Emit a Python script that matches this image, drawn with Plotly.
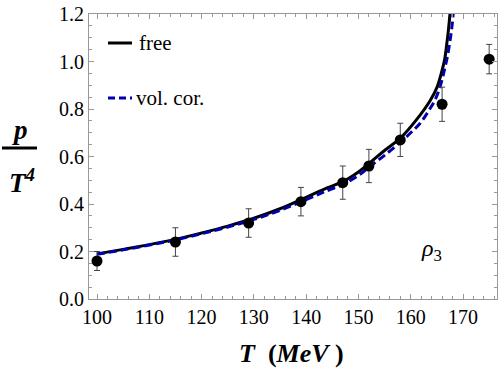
import plotly.graph_objects as go

# Data points with error bars
pt_T = [100, 115, 129, 139, 147, 152, 158, 166, 175]
pt_p = [0.16, 0.24, 0.32, 0.41, 0.49, 0.56, 0.67, 0.82, 1.01]
pt_err = [0.04, 0.06, 0.06, 0.06, 0.07, 0.07, 0.07, 0.072, 0.062]

# "free" curve
free_T = [100, 105, 110, 115, 120, 125, 130, 135, 140, 144, 147, 150, 152, 154.7,
          158, 161, 163.7, 165, 165.9, 166.5, 166.9, 167.2, 167.5, 167.7]
free_p = [0.19, 0.209, 0.229, 0.251, 0.278, 0.307, 0.34, 0.38, 0.428, 0.468, 0.494,
          0.535, 0.57, 0.62, 0.677, 0.752, 0.835, 0.89, 0.955, 1.01, 1.075, 1.13, 1.2, 1.26]

# "vol. cor." curve
vol_T = [100, 105, 110, 115, 120, 125, 130, 135, 140, 144, 147, 150, 152, 155, 158,
         160, 161.8, 163.5, 164.7, 165.7, 166.5, 167, 167.5, 167.9, 168.2]
vol_p = [0.188, 0.207, 0.227, 0.249, 0.275, 0.303, 0.335, 0.373, 0.418, 0.456, 0.482,
         0.52, 0.555, 0.605, 0.66, 0.70, 0.74, 0.795, 0.84, 0.9, 0.97, 1.02, 1.085,
         1.15, 1.22]

x_ticks = [100, 110, 120, 130, 140, 150, 160, 170]
y_ticks = [0.0, 0.2, 0.4, 0.6, 0.8, 1.0, 1.2]

W, H = 498, 370
L, R, T, B = 89, 1, 14, 71
XR = [98.47, 176.5]
YR = [0.0, 1.2]
pw, ph = W - L - R, H - T - B


def px(xpix):
    return (xpix - L) / pw


def py(ypix):
    return (H - B - ypix) / ph


SERIF = "Liberation Serif"
BLUE = "rgb(0,0,175)"

fig = go.Figure()
fig.add_trace(go.Scatter(x=free_T, y=free_p, mode="lines", line=dict(color="black", width=3, shape="spline"),
                         showlegend=False, hoverinfo="skip"))
fig.add_trace(go.Scatter(x=vol_T, y=vol_p, mode="lines",
                         line=dict(color=BLUE, width=3, dash="8px,4px", shape="spline"),
                         showlegend=False, hoverinfo="skip"))
fig.add_trace(go.Scatter(x=pt_T, y=pt_p, mode="markers",
                         marker=dict(color="black", size=11),
                         error_y=dict(type="data", array=pt_err, color="#444", thickness=1, width=3),
                         showlegend=False, cliponaxis=False))

axis_common = dict(showgrid=False, zeroline=False, showline=True, linecolor="#999", linewidth=1,
                   mirror="ticks", ticks="inside", tickcolor="#999", ticklen=5, tickwidth=1,
                   tickfont=dict(family=SERIF, size=20, color="black"))
fig.update_xaxes(range=XR, tickvals=x_ticks, ticktext=[str(v) for v in x_ticks],
                 minor=dict(dtick=2, ticks="inside", ticklen=3, tickcolor="#999", tick0=100),
                 **axis_common)
fig.update_yaxes(range=YR, tickvals=y_ticks, ticktext=[f"{v:.1f}" for v in y_ticks],
                 minor=dict(dtick=0.05, ticks="inside", ticklen=3, tickcolor="#999", tick0=0),
                 **axis_common)

shapes = [
    dict(type="line", xref="paper", yref="paper", x0=px(108), x1=px(132), y0=py(43), y1=py(43),
         line=dict(color="black", width=3)),
    dict(type="line", xref="paper", yref="paper", x0=px(108), x1=px(132), y0=py(98), y1=py(98),
         line=dict(color=BLUE, width=3, dash="7px,4px")),
    dict(type="line", xref="paper", yref="paper", x0=px(2), x1=px(37), y0=py(148), y1=py(148),
         line=dict(color="black", width=3)),
]

annotations = [
    dict(x=px(137), y=py(43), xref="paper", yref="paper", text="free", showarrow=False,
         xanchor="left", yanchor="middle", font=dict(family=SERIF, size=21, color="black")),
    dict(x=px(134), y=py(98), xref="paper", yref="paper", text="vol. cor.", showarrow=False,
         xanchor="left", yanchor="middle", font=dict(family=SERIF, size=21, color="black")),
    dict(x=px(20), y=py(130), xref="paper", yref="paper", text="<b><i>p</i></b>", showarrow=False,
         xanchor="center", yanchor="middle", font=dict(family=SERIF, size=27, color="black")),
    dict(x=px(22), y=py(181), xref="paper", yref="paper", text="<b><i>T</i><sup><i>4</i></sup></b>",
         showarrow=False, xanchor="center", yanchor="middle",
         font=dict(family=SERIF, size=27, color="black")),
    dict(x=px(291), y=py(353), xref="paper", yref="paper", text="<b><i>T</i>  (<i>MeV</i> )</b>",
         showarrow=False, xanchor="center", yanchor="middle",
         font=dict(family=SERIF, size=26, color="black")),
    dict(x=px(431), y=py(250), xref="paper", yref="paper", text="<i>ρ</i><sub>3</sub>",
         showarrow=False, xanchor="center", yanchor="middle",
         font=dict(family=SERIF, size=24, color="black")),
]

fig.update_layout(width=W, height=H, margin=dict(l=L, r=R, t=T, b=B),
                  font=dict(family=SERIF),
                  paper_bgcolor="white", plot_bgcolor="white",
                  shapes=shapes, annotations=annotations, showlegend=False)

fig.write_html("out.html", config={"displayModeBar": False},
               post_script="document.body.style.margin='0px';document.body.style.padding='0px';")
